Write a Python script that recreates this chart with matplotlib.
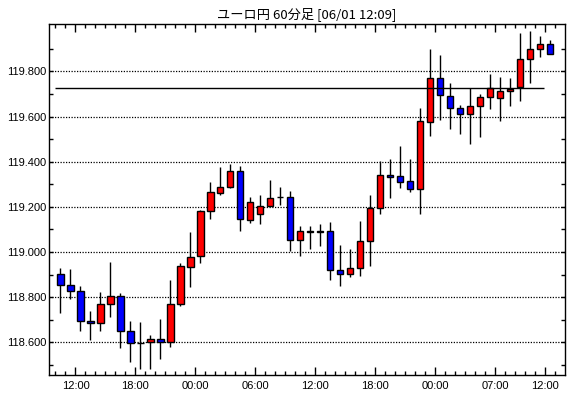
import matplotlib
matplotlib.use('Agg')
import matplotlib.pyplot as plt
import numpy as np

# hourly candles, EUR/JPY
opens  = [118.904, 118.855, 118.828, 118.695, 118.685, 118.769, 118.805, 118.650, 118.597, 118.600,
          118.613, 118.600, 118.769, 118.933, 118.980, 119.183, 119.261, 119.287, 119.359, 119.142,
          119.170, 119.205, 119.242, 119.245, 119.054, 119.095, 119.087, 119.095, 118.919, 118.902,
          118.928, 119.047, 119.196, 119.341, 119.335, 119.313, 119.280, 119.575, 119.769, 119.693,
          119.639, 119.612, 119.647, 119.687, 119.683, 119.714, 119.729, 119.856, 119.901, 119.923]
highs  = [118.930, 118.926, 118.850, 118.739, 118.822, 118.957, 118.819, 118.696, 118.692, 118.632,
          118.704, 118.877, 118.951, 119.089, 119.185, 119.312, 119.378, 119.390, 119.382, 119.245,
          119.251, 119.321, 119.286, 119.271, 119.117, 119.114, 119.123, 119.132, 119.029, 119.013,
          119.136, 119.251, 119.403, 119.410, 119.468, 119.410, 119.638, 119.898, 119.871, 119.747,
          119.653, 119.727, 119.702, 119.790, 119.773, 119.769, 119.972, 119.978, 119.956, 119.938]
lows   = [118.728, 118.793, 118.648, 118.612, 118.652, 118.714, 118.576, 118.514, 118.483, 118.483,
          118.526, 118.581, 118.759, 118.843, 118.953, 119.145, 119.252, 119.285, 119.094, 119.129,
          119.125, 119.203, 119.207, 119.006, 118.984, 119.012, 119.028, 118.876, 118.848, 118.887,
          118.895, 118.936, 119.170, 119.239, 119.283, 119.265, 119.170, 119.513, 119.584, 119.544,
          119.522, 119.477, 119.508, 119.633, 119.579, 119.646, 119.670, 119.750, 119.864, 119.877]
closes = [118.852, 118.825, 118.693, 118.685, 118.770, 118.805, 118.649, 118.596, 118.597, 118.613,
          118.600, 118.770, 118.938, 118.978, 119.183, 119.264, 119.290, 119.359, 119.148, 119.223,
          119.205, 119.240, 119.242, 119.054, 119.095, 119.087, 119.095, 118.919, 118.902, 118.928,
          119.048, 119.196, 119.341, 119.333, 119.310, 119.280, 119.582, 119.769, 119.695, 119.639,
          119.612, 119.647, 119.687, 119.726, 119.714, 119.724, 119.856, 119.901, 119.923, 119.877]

tick_slots = [1.5, 7.5, 13.5, 19.5, 25.5, 31.5, 37.5, 43.5, 48.5]
tick_labels = ['12:00', '18:00', '00:00', '06:00', '12:00', '18:00', '00:00', '07:00', '12:00']
ref_price = 119.728
title = 'ユーロ円 60分足 [06/01 12:09]'

plt.rcParams['font.family'] = ['Liberation Sans', 'Noto Sans CJK JP', 'DejaVu Sans']

fig = plt.figure(figsize=(5.7, 3.98), dpi=100)
ax = fig.add_axes([49/570, 23/398, 516/570, 351/398])

x = np.arange(len(opens))
o = np.array(opens); c = np.array(closes)
h = np.array(highs); l = np.array(lows)

for yv in np.arange(118.6, 119.81, 0.2):
    ax.axhline(yv, color='black', lw=0.9, linestyle=(0, (1, 1.2)), zorder=1)

ax.vlines(x, l, h, color='black', lw=1.0, zorder=2)
cols = np.where(c > o, '#ff0000', np.where(c < o, '#0000ff', 'black'))
ax.bar(x, np.abs(c - o), bottom=np.minimum(o, c), width=0.62,
       color=cols, edgecolor='black', linewidth=1.0, zorder=3)

ax.hlines(ref_price, -0.55, 48.4, color='black', lw=1.0, zorder=4)

ax.set_xlim(-1.15, 50.48)
ax.set_ylim(118.455, 120.01)

ax.set_yticks(np.arange(118.6, 119.81, 0.2))
ax.set_yticks(np.arange(118.5, 120.0, 0.2), minor=True)
ax.set_yticklabels(['%.3f' % v for v in np.arange(118.6, 119.81, 0.2)])
ax.set_xticks(tick_slots)
ax.set_xticklabels(tick_labels)
ax.set_xticks(np.arange(-0.5, 50.0, 1.0), minor=True)

ax.tick_params(axis='y', which='both', direction='in', left=True, right=True,
               length=3, width=1, labelsize=8, pad=2)
ax.tick_params(axis='x', which='major', direction='in', top=True, bottom=True,
               length=6, width=1, labelsize=8, pad=4)
ax.tick_params(axis='x', which='minor', direction='in', top=True, bottom=True,
               length=3, width=1)
for s in ax.spines.values():
    s.set_linewidth(1.0)

ax.set_title(title, fontsize=9.5, pad=4, family=['Noto Sans CJK JP', 'DejaVu Sans'])

fig.savefig('out.png', dpi=100)
